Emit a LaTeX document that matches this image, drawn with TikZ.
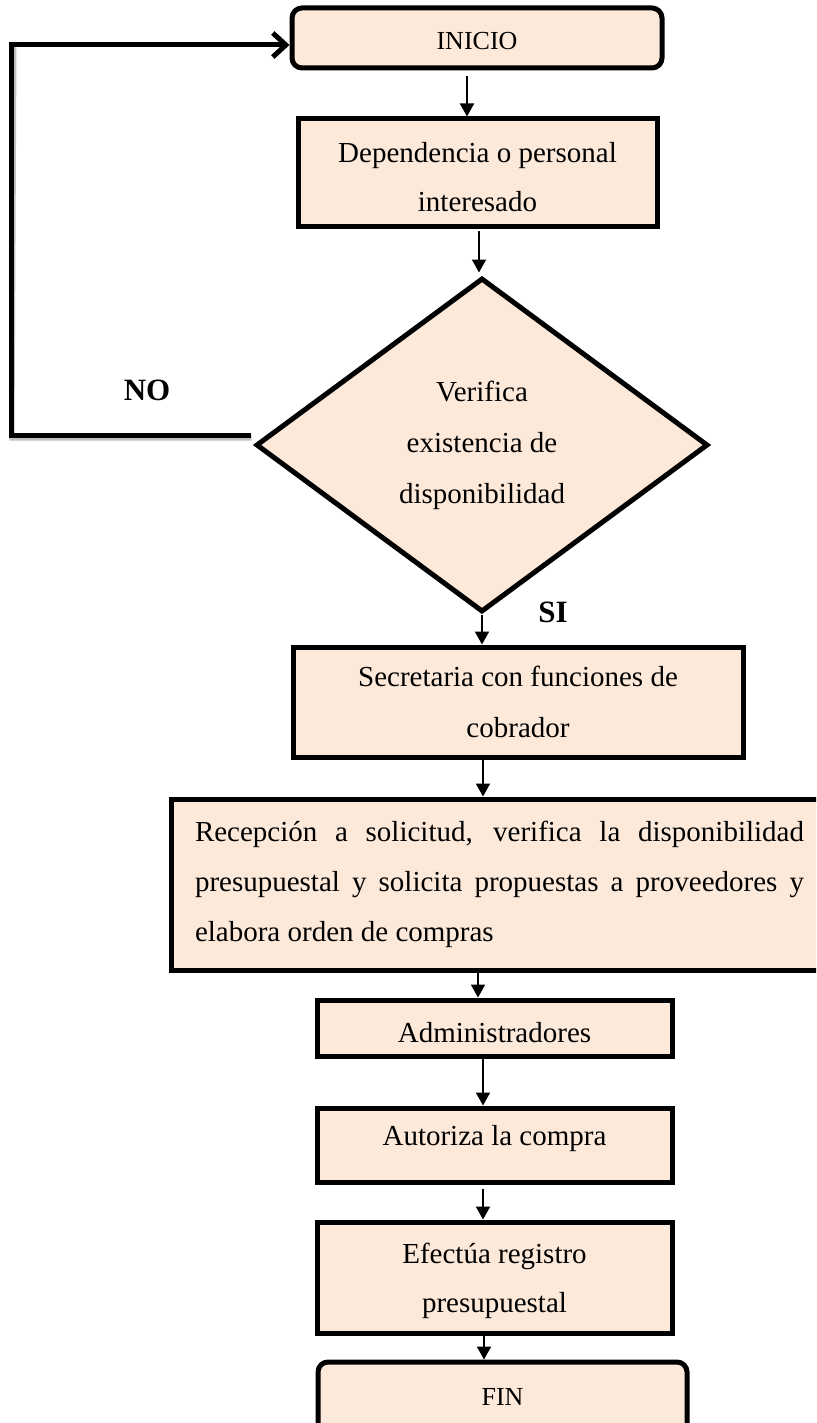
\documentclass[tikz,border=0pt]{standalone}
\usepackage{fontspec}
\setmainfont{Liberation Serif}
\usetikzlibrary{shapes.geometric,arrows.meta}
\definecolor{peach}{HTML}{FDE9D9}
\begin{document}
\begin{tikzpicture}[x=1pt,y=-1pt,
  box/.style={draw=black, line width=5pt, fill=peach, align=center,
    font=\fontsize{29}{49}\selectfont, inner sep=0pt},
  tline/.style={text height=20pt, text depth=6pt},
  rbox/.style={box, rounded corners=10pt, font=\fontsize{26}{30}\selectfont},
  arr/.style={line width=2pt, -{Triangle[length=13pt,width=14pt]}},
  fbline/.style={line width=5pt, -{Straight Barb[length=13pt,width=24pt]}},
  shadowline/.style={line width=5pt, draw=black!25},
  lbl/.style={font=\bfseries\fontsize{31}{36}\selectfont, inner sep=0pt}]
\useasboundingbox (0,0) rectangle (816,1423);
\clip (0,0) rectangle (816,1423);
\fill[white] (0,0) rectangle (816,1423);

\node[rbox, text height=29pt, text depth=6pt, minimum width=370pt, minimum height=60pt] (ini) at (477,38) {INICIO};
\node[box, minimum width=359pt, minimum height=108pt] (dep) at (477.5,173)
  {\rule{0pt}{28pt}Dependencia o personal\\interesado};
\node[box, diamond, minimum width=452pt, minimum height=334pt,
  font=\fontsize{29}{51}\selectfont] (dia) at (482,445)
  {Verifica\\existencia de\\disponibilidad};
\node[box, minimum width=450pt, minimum height=110pt, font=\fontsize{29}{51}\selectfont] (sec) at (518,702)
  {Secretaria con funciones de\\cobrador};
\node[box, text width=609pt, align=justify, inner xsep=24pt, minimum height=171pt,
  font=\fontsize{29}{50}\selectfont] (rec) at (499.5,884.5)
  {Recepción a solicitud, verifica la disponibilidad\linebreak presupuestal y solicita propuestas a proveedores y\linebreak elabora orden de compras};
\node[box, text height=34pt, text depth=6pt, minimum width=355pt, minimum height=56pt] (adm) at (494.5,1028) {Administradores};
\node[box, text height=20pt, text depth=20pt, minimum width=355pt, minimum height=74pt] (aut) at (494.5,1145) {Autoriza la compra};
\node[box, minimum width=355pt, minimum height=111pt] (efe) at (494.5,1277.5)
  {\rule{0pt}{28pt}Efectúa registro\\presupuestal};
\node[rbox, tline, minimum width=369pt, minimum height=72pt] (fin) at (502.5,1398) {FIN};

\node[lbl] (no) at (147,390) {NO};
\node[lbl] (si) at (553,612) {SI};

\coordinate (fb) at (14,0);
\draw[shadowline] ([xshift=-2pt,yshift=7pt]dia.west) -- ([xshift=-2pt,yshift=7pt]dia.west -| fb)
  -- ([yshift=-9pt]ini.west -| fb);
\draw[fbline] ([xshift=-3pt,yshift=10pt]dia.west) -- ([xshift=-3pt,yshift=10pt]dia.west -| fb)
  |- ([yshift=-7pt]ini.west);

\draw[arr] ([xshift=-10pt,yshift=-6pt]ini.south) -- ([xshift=-10pt]ini.south |- dep.north);
\draw[arr] ([xshift=1.5pt,yshift=-2pt]dep.south) -- ([xshift=1.5pt,yshift=3pt]dep.south |- dia.north);
\draw[arr] (dia.south) -- (dia.south |- sec.north);
\draw[arr] ([xshift=-35pt]sec.south) -- ([xshift=-35pt]sec.south |- rec.north);
\draw[arr] ([xshift=-21.5pt]rec.south) -- ([xshift=-21.5pt]rec.south |- adm.north);
\draw[arr] ([xshift=-11.5pt]adm.south) -- ([xshift=-11.5pt]adm.south |- aut.north);
\draw[arr] ([xshift=-11.5pt,yshift=-4pt]aut.south) -- ([xshift=-11.5pt]aut.south |- efe.north);
\draw[arr] ([xshift=-10.5pt]efe.south) -- ([xshift=-10.5pt]efe.south |- fin.north);
\end{tikzpicture}
\end{document}
